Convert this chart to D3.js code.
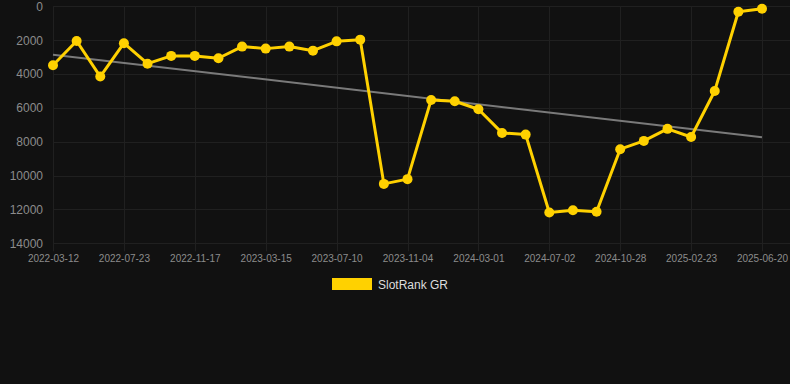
<!DOCTYPE html>
<html>
<head>
<meta charset="utf-8">
<script src="https://cdn.jsdelivr.net/npm/d3@7"></script>
<style>
  html, body { margin: 0; padding: 0; background: #111111; }
  svg { display: block; font-family: "Liberation Sans", Arial, sans-serif; }
</style>
</head>
<body>
<div id="chart"></div>
<script>
var width = 790;
var height = 384;

// categories (one every ~39 days, only every 3rd is labelled)
var dates = [
  "2022-03-12", "2022-04-26", "2022-06-08", "2022-07-23", "2022-08-31", "2022-10-09",
  "2022-11-17", "2022-12-26", "2023-02-04", "2023-03-15", "2023-04-23", "2023-06-01",
  "2023-07-10", "2023-08-18", "2023-09-26", "2023-11-04", "2023-12-13", "2024-01-22",
  "2024-03-01", "2024-04-11", "2024-05-22", "2024-07-02", "2024-08-10", "2024-09-19",
  "2024-10-28", "2024-12-06", "2025-01-14", "2025-02-23", "2025-04-03", "2025-05-12",
  "2025-06-20"
];

// SlotRank GR (rank, lower is better)
var rank = [
  3480, 2050, 4150, 2180, 3390, 2930, 2930, 3070, 2380, 2500, 2380, 2620,
  2070, 1970, 10490, 10210, 5530, 5610, 6080, 7480, 7580, 12180, 12050, 12140,
  8440, 7950, 7240, 7720, 5000, 320, 140
];

var yTicks = [0, 2000, 4000, 6000, 8000, 10000, 12000, 14000];
var xTickLabels = dates.filter(function(d, i) { return i % 3 == 0; });
var seriesName = "SlotRank GR";

var yellow = "#ffd100";

var svg = d3.select("#chart")
    .append("svg")
      .attr("width", width)
      .attr("height", height);

svg.append("rect").attr("width", width).attr("height", height).attr("fill", "#111111");

var x = d3.scalePoint().domain(dates).range([53, 762]);
var y = d3.scaleLinear().domain([0, 14000]).range([6.3, 243.3]);

// grid
svg.append("g")
    .selectAll("line")
    .data(yTicks)
    .enter().append("line")
      .attr("x1", 53).attr("x2", width)
      .attr("y1", function(d) { return Math.round(y(d)) + 0.5; })
      .attr("y2", function(d) { return Math.round(y(d)) + 0.5; })
      .attr("stroke", "#202020")
      .attr("stroke-width", 1);

svg.append("g")
    .selectAll("line")
    .data(xTickLabels)
    .enter().append("line")
      .attr("x1", function(d) { return Math.round(x(d)) + 0.5; })
      .attr("x2", function(d) { return Math.round(x(d)) + 0.5; })
      .attr("y1", y(0)).attr("y2", y(14000) + 8)
      .attr("stroke", "#202020")
      .attr("stroke-width", 1);

// axes (labels only)
var yAxis = svg.append("g")
    .attr("transform", "translate(43,0)")
    .call(d3.axisLeft(y).tickValues(yTicks).tickSize(0).tickPadding(0).tickFormat(d3.format("d")));
yAxis.select(".domain").remove();
yAxis.selectAll("text").attr("fill", "#8c8c8c").attr("font-size", "12px")
    .attr("font-family", "Liberation Sans, Arial, sans-serif");

var xAxis = svg.append("g")
    .attr("transform", "translate(0," + (y(14000) + 12) + ")")
    .call(d3.axisBottom(x).tickValues(xTickLabels).tickSize(0).tickPadding(0));
xAxis.select(".domain").remove();
xAxis.selectAll("text").attr("fill", "#8c8c8c").attr("font-size", "10px")
    .attr("font-family", "Liberation Sans, Arial, sans-serif");

// trend line (least squares over the series)
var n = rank.length;
var mx = d3.mean(rank, function(d, i) { return i; });
var my = d3.mean(rank);
var sxy = d3.sum(rank, function(d, i) { return (i - mx) * (d - my); });
var sxx = d3.sum(rank, function(d, i) { return (i - mx) * (i - mx); });
var slope = sxy / sxx;
var icpt = my - slope * mx;

svg.append("line")
    .attr("x1", x(dates[0])).attr("y1", y(icpt))
    .attr("x2", x(dates[n - 1])).attr("y2", y(icpt + slope * (n - 1)))
    .attr("stroke", "#7a7a7a")
    .attr("stroke-width", 2);

// series
var line = d3.line()
    .x(function(d, i) { return x(dates[i]); })
    .y(function(d) { return y(d); });

svg.append("path")
    .datum(rank)
    .attr("d", line)
    .attr("fill", "none")
    .attr("stroke", yellow)
    .attr("stroke-width", 3)
    .attr("stroke-linejoin", "round");

svg.append("g")
    .selectAll("circle")
    .data(rank)
    .enter().append("circle")
      .attr("cx", function(d, i) { return x(dates[i]); })
      .attr("cy", function(d) { return y(d); })
      .attr("r", 5)
      .attr("fill", yellow);

// legend
var legend = svg.append("g").attr("transform", "translate(332,278)");
legend.append("rect").attr("width", 40).attr("height", 12).attr("fill", yellow);
legend.append("text")
    .attr("x", 46).attr("y", 10.5)
    .attr("fill", "#dddddd")
    .attr("font-size", "12px")
    .text(seriesName);
</script>
</body>
</html>
